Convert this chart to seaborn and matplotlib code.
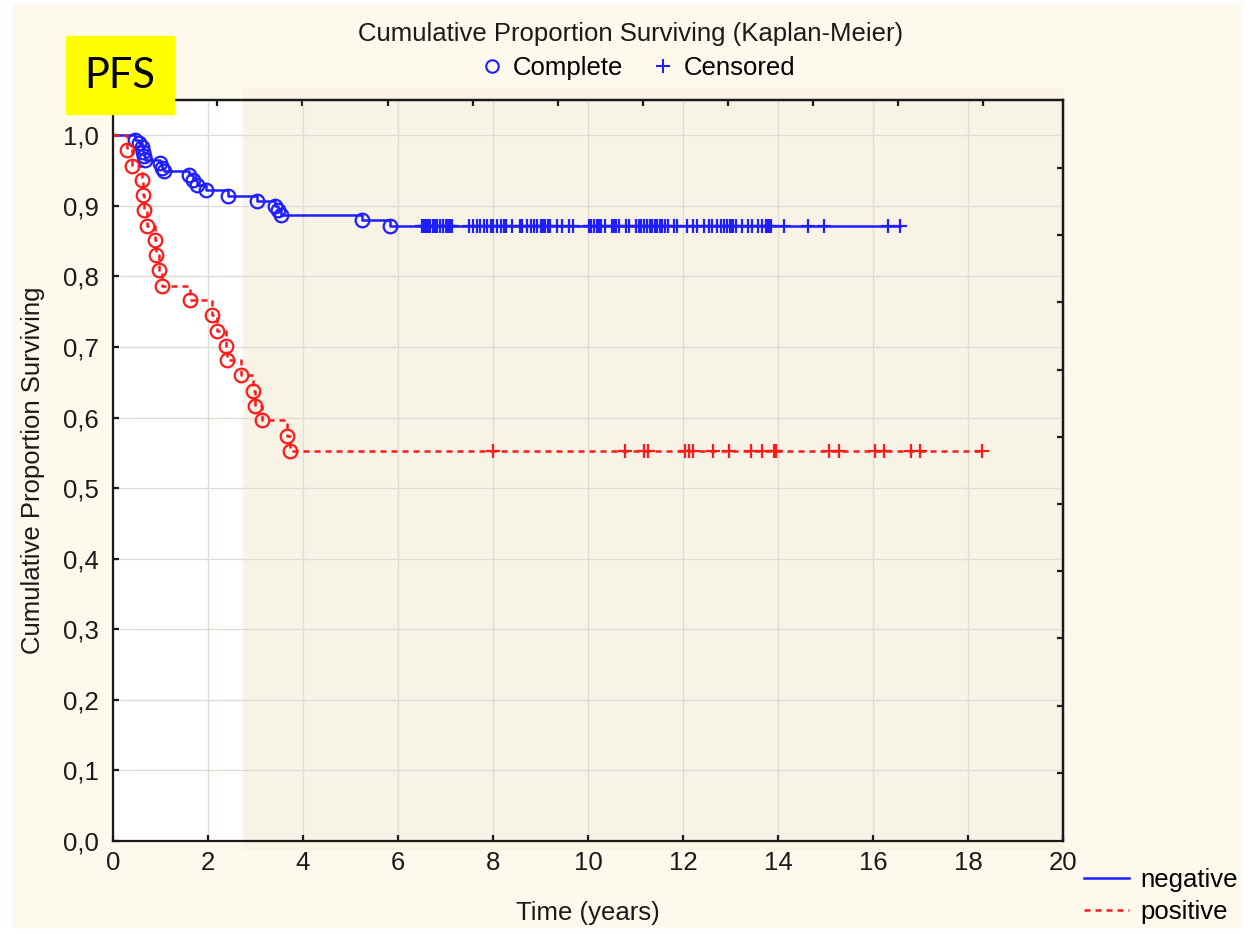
import matplotlib
matplotlib.use("Agg")
import matplotlib.pyplot as plt
from matplotlib.lines import Line2D
from matplotlib.patches import Rectangle
from matplotlib.ticker import FuncFormatter
import seaborn as sns

# ---- negative group: Kaplan-Meier events (time in years, survival after event)
neg_event_t = [0.46, 0.55, 0.60, 0.63, 0.65, 0.68, 0.98, 1.03, 1.07, 1.59,
               1.69, 1.76, 1.96, 2.43, 3.03, 3.42, 3.48, 3.53, 5.24, 5.84]
neg_event_s = [0.994, 0.989, 0.984, 0.977, 0.971, 0.965, 0.961, 0.954, 0.949, 0.944,
               0.937, 0.930, 0.923, 0.914, 0.907, 0.900, 0.894, 0.887, 0.880, 0.872]
# censored follow-up times
neg_censor_t = [6.51, 6.54, 6.58, 6.61, 6.65, 6.68, 6.74, 6.78, 6.83, 6.89, 6.94, 7.00,
                7.03, 7.07, 7.10, 7.14,
                7.49, 7.58, 7.66, 7.73, 7.80, 7.88, 7.95, 8.01, 8.09, 8.17, 8.24, 8.28,
                8.40,
                8.56, 8.61, 8.72, 8.79, 8.86, 8.93, 9.00, 9.06, 9.10, 9.16, 9.20,
                9.35, 9.46, 9.60, 9.69,
                10.02, 10.07, 10.12, 10.18, 10.23, 10.28, 10.35, 10.51, 10.54, 10.58, 10.65,
                10.79, 10.86,
                11.00, 11.07, 11.12, 11.18, 11.25, 11.30, 11.35, 11.40, 11.46, 11.51, 11.56,
                11.63, 11.68, 11.81, 11.87,
                12.09, 12.20, 12.29, 12.44, 12.55, 12.62, 12.72, 12.79, 12.86, 12.93, 12.99,
                13.02, 13.06, 13.11, 13.25, 13.36, 13.46, 13.57, 13.67, 13.74, 13.78, 13.81,
                13.85, 14.13, 14.64, 14.96, 16.32, 16.57]

# ---- positive group
pos_event_t = [0.30, 0.40, 0.61, 0.63, 0.66, 0.72, 0.88, 0.90, 0.97, 1.03, 1.62,
               2.09, 2.19, 2.38, 2.41, 2.70, 2.95, 2.98, 3.14, 3.67, 3.72]
pos_event_s = [0.979, 0.957, 0.936, 0.915, 0.894, 0.872, 0.851, 0.830, 0.809, 0.787, 0.766,
               0.745, 0.723, 0.702, 0.681, 0.660, 0.638, 0.617, 0.596, 0.574, 0.553]
pos_censor_t = [8.00, 10.77, 11.18, 11.26, 12.05, 12.12, 12.22, 12.63, 12.97, 13.44,
                13.66, 13.91, 13.95, 15.07, 15.29, 16.05, 16.23, 16.81, 16.98, 18.30]

x_ticks = [0, 2, 4, 6, 8, 10, 12, 14, 16, 18, 20]
y_ticks = [0.0, 0.1, 0.2, 0.3, 0.4, 0.5, 0.6, 0.7, 0.8, 0.9, 1.0]

BLUE = "#1e1eff"
RED = "#ff1a1a"
FONT = "Liberation Sans"
FS = 18.5

plt.rcParams["font.family"] = [FONT, "DejaVu Sans"]

W, H = 1253, 934
fig = plt.figure(figsize=(W / 100, H / 100), dpi=100)
fig.patch.set_facecolor("white")


def fx(px):
    return px / W


def fy(py):
    return 1 - py / H


# panel backgrounds
fig.add_artist(Rectangle((fx(13), fy(927)), fx(1241 - 13), (927 - 4) / H,
                         transform=fig.transFigure, color="#fdf9ec", zorder=-10))
fig.add_artist(Rectangle((fx(243), fy(849)), fx(1063 - 243), (849 - 88) / H,
                         transform=fig.transFigure, color="#f9f4e3", zorder=-9))

ax = fig.add_axes([fx(113), fy(841), fx(1063 - 113), (841 - 100) / H])
ax.set_facecolor("white")
ax.axvspan(2.74, 20, color="#f7f3e7", zorder=0, lw=0)

ax.set_xlim(0, 20)
ax.set_ylim(0, 1.05)
ax.set_axisbelow(True)
ax.grid(True, color="#dedcd3", lw=1.0)


def km_steps(ev_t, ev_s, cens_t):
    xs = [0.0] + list(ev_t) + [max(cens_t)]
    ys = [1.0] + list(ev_s) + [ev_s[-1]]
    return xs, ys


for ev_t, ev_s, cens_t, col, ls in [
    (neg_event_t, neg_event_s, neg_censor_t, BLUE, "-"),
    (pos_event_t, pos_event_s, pos_censor_t, RED, (0, (2.4, 2.0))),
]:
    xs, ys = km_steps(ev_t, ev_s, cens_t)
    sns.lineplot(x=xs, y=ys, ax=ax, color=col, lw=1.8, linestyle=ls,
                 drawstyle="steps-post", estimator=None, sort=False, legend=False,
                 zorder=3)
    sns.lineplot(x=ev_t, y=ev_s, ax=ax, marker="o", linestyle="", markersize=9.8,
                 markerfacecolor="none", markeredgecolor=col, markeredgewidth=1.6,
                 estimator=None, sort=False, legend=False, zorder=4)
    sns.lineplot(x=cens_t, y=[ev_s[-1]] * len(cens_t), ax=ax, marker="+", linestyle="",
                 markersize=10.5, markeredgecolor=col, markeredgewidth=1.6, color=col,
                 estimator=None, sort=False, legend=False, zorder=4)

# axes styling
for sp in ax.spines.values():
    sp.set_color("#1a1a1a")
    sp.set_linewidth(1.6)
    sp.set_zorder(5)

ax.set_xticks(x_ticks)
ax.set_yticks(y_ticks)
ax.yaxis.set_major_formatter(FuncFormatter(lambda v, p: f"{v:.1f}".replace(".", ",")))
ax.tick_params(direction="in", length=4, width=1.6, labelsize=FS, colors="#1a1a1a",
               top=False, right=False)
ax.tick_params(axis="y", pad=10)
ax.tick_params(axis="x", pad=7)

# secondary frame ticks
sec_x = ax.secondary_xaxis("top")
sec_x.set_xticks([2.19, 3.98, 5.78, 7.57, 9.36, 11.15, 12.94, 14.73, 16.52, 18.32])
sec_x.tick_params(direction="in", length=4, width=1.6, labeltop=False, colors="#1a1a1a")
sec_x.spines["top"].set_linewidth(1.6)
sec_y = ax.secondary_yaxis("right")
sec_y.set_yticks([0.954, 0.859, 0.764, 0.668, 0.573, 0.477, 0.382, 0.287, 0.191, 0.096])
sec_y.tick_params(direction="in", length=4, width=1.6, labelright=False, colors="#1a1a1a")
sec_y.spines["right"].set_linewidth(1.6)

ax.set_xlabel("Time (years)", fontsize=FS, va="center", color="#1a1a1a")
ax.xaxis.set_label_coords(0.5, -(913 - 841) / 741)
ax.set_ylabel("Cumulative Proportion Surviving", fontsize=FS, va="center", color="#1a1a1a")
ax.yaxis.set_label_coords(-(113 - 33) / 950, 0.5)

# title and marker key
fig.text(fx(631), fy(34), "Cumulative Proportion Surviving (Kaplan-Meier)",
         ha="center", va="center", fontsize=FS, color="#1a1a1a")
key = [Line2D([], [], marker="o", ls="", mfc="none", mec=BLUE, mew=1.5, ms=9),
       Line2D([], [], marker="+", ls="", color=BLUE, mew=1.5, ms=10)]
fig.legend(key, ["Complete", "Censored"], ncol=2, loc="center",
           bbox_to_anchor=(fx(637), fy(68)), frameon=False, fontsize=FS,
           handletextpad=0.3, columnspacing=1.05, handlelength=1.0)

# group key
grp = [Line2D([], [], color=BLUE, lw=1.8),
       Line2D([], [], color=RED, lw=1.8, ls=(0, (2.4, 2.0)))]
fig.legend(grp, ["negative", "positive"], loc="upper left",
           bbox_to_anchor=(fx(1079), fy(863)), frameon=False, fontsize=FS,
           handlelength=1.75, handletextpad=0.45, labelspacing=0.3, borderaxespad=0,
           borderpad=0.2)

# label box
fig.add_artist(Rectangle((fx(66), fy(114)), fx(174 - 66), (114 - 36) / H,
                         transform=fig.transFigure, color="#ffff00", zorder=6))
fig.text(fx(120), fy(76), "PFS", ha="center", va="center", fontsize=30,
         family=["Lato", "DejaVu Sans"], color="black", zorder=7)

fig.savefig("out.png", dpi=100, facecolor=fig.get_facecolor())
